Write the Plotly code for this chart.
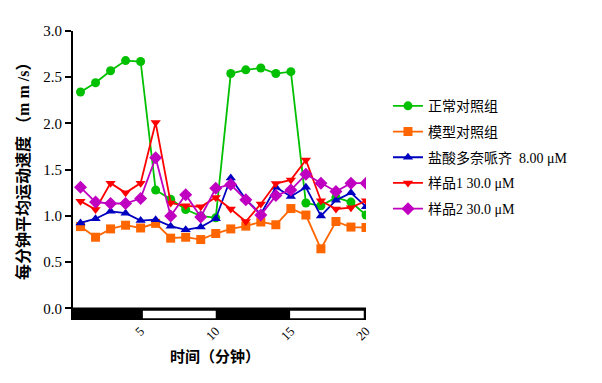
import plotly.graph_objects as go

minutes = list(range(1, 21))
normal = [2.34, 2.44, 2.57, 2.68, 2.67, 1.28, 1.18, 1.07, 1.00, 0.98,
          2.54, 2.58, 2.60, 2.54, 2.56, 1.14, 1.11, 1.20, 1.15, 1.01]
model = [0.885, 0.77, 0.86, 0.90, 0.87, 0.92, 0.76, 0.77, 0.745, 0.81,
         0.86, 0.89, 0.935, 0.905, 1.08, 1.01, 0.645, 0.94, 0.88, 0.875]
donepezil = [0.925, 0.97, 1.05, 1.03, 0.95, 0.96, 0.89, 0.85, 0.88, 0.97,
             1.41, 1.18, 1.02, 1.31, 1.21, 1.31, 1.00, 1.17, 1.25, 1.10]
sample1 = [1.16, 1.07, 1.355, 1.25, 1.355, 2.01, 1.14, 1.11, 1.10, 1.20,
           1.075, 0.94, 1.13, 1.35, 1.39, 1.605, 1.165, 1.075, 1.09, 1.165]
sample2 = [1.31, 1.15, 1.135, 1.135, 1.19, 1.63, 1.00, 1.23, 0.99, 1.30,
           1.34, 1.175, 1.01, 1.22, 1.28, 1.45, 1.355, 1.265, 1.355, 1.355]

names = ["正常对照组", "模型对照组", "盐酸多奈哌齐  8.00 μM", "样品1 30.0 μM", "样品2 30.0 μM"]
series = [normal, model, donepezil, sample1, sample2]
colors = ["#00C000", "#FF6600", "#0000C0", "#FF0000", "#C000C0"]
symbols = ["circle", "square", "triangle-up", "triangle-down", "diamond"]
sizes = [9, 9, 9, 9, 10]

xticks = [5, 10, 15, 20]
yticks = [0.0, 0.5, 1.0, 1.5, 2.0, 2.5, 3.0]

FONT = "Liberation Serif, Noto Sans CJK SC, serif"

fig = go.Figure()
for i, (n, s, c, sym, sz) in enumerate(zip(names, series, colors, symbols, sizes)):
    fig.add_trace(go.Scatter(
        x=minutes, y=s, name=n, mode="lines+markers", legendgroup="g%d" % i,
        line=dict(color=c, width=1.8),
        marker=dict(symbol=sym, size=sz, color=c),
    ))

# light/dark bar under the x axis
shapes = [
    dict(type="rect", xref="x", yref="y", x0=0.5, x1=20, y0=-0.125, y1=0,
         fillcolor="black", line=dict(color="black", width=2)),
    dict(type="rect", xref="x", yref="y", x0=5.15, x1=10.0, y0=-0.105, y1=-0.025,
         fillcolor="white", line=dict(width=0)),
    dict(type="rect", xref="x", yref="y", x0=14.95, x1=19.85, y0=-0.105, y1=-0.025,
         fillcolor="white", line=dict(width=0)),
]

fig.update_layout(
    width=602, height=383,
    margin=dict(l=73, r=236, t=31, b=62.5),
    paper_bgcolor="white", plot_bgcolor="white",
    font=dict(family=FONT, color="black", size=14),
    shapes=shapes,
    showlegend=True,
    legend=dict(x=1.075, y=0.795, xanchor="left", yanchor="top",
                tracegroupgap=4.5,
                font=dict(family=FONT, size=14, color="black"),
                bgcolor="rgba(0,0,0,0)"),
    xaxis=dict(range=[0.5, 20], tickvals=xticks, ticktext=[str(v) for v in xticks],
               tickangle=-45, showgrid=False, zeroline=False, showline=False,
               ticks="", tickfont=dict(family=FONT, size=13, color="black")),
    yaxis=dict(range=[-0.125, 3.0], tickvals=yticks,
               ticktext=["%.1f" % v for v in yticks],
               showgrid=False, zeroline=False, showline=True, linecolor="black",
               linewidth=2, ticks="outside", ticklen=6, tickwidth=2, tickcolor="black",
               tickfont=dict(family=FONT, size=15, color="black")),
    annotations=[
        dict(text="<b>每分钟平均运动速度 （m m /s）</b>", textangle=-90,
             xref="paper", yref="paper", x=-0.17, y=0.527,
             xanchor="center", yanchor="middle", showarrow=False,
             font=dict(family=FONT, size=16, color="black")),
        dict(text="<b>时间（分钟）</b>", xref="paper", yref="paper",
             x=(215 - 73) / 293, y=-0.128, xanchor="center", yanchor="middle",
             showarrow=False, font=dict(family=FONT, size=15, color="black")),
    ],
)

fig.write_html("out.html")
